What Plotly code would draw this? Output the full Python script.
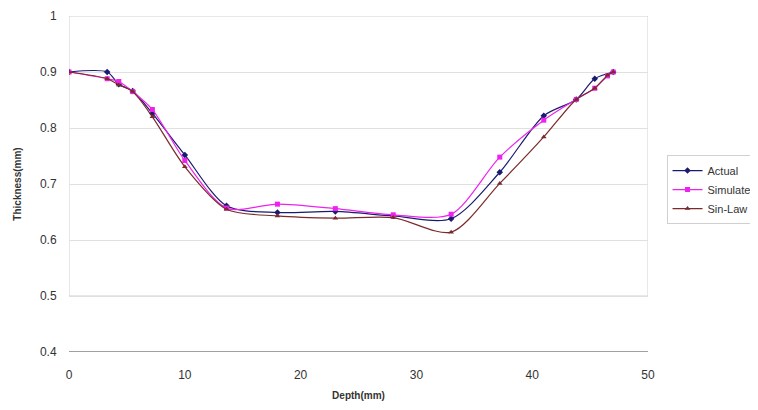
import plotly.graph_objects as go

actual_x = [0, 3.3, 4.3, 5.5, 7.2, 10, 13.6, 18, 23, 28, 33, 37.2, 41, 43.8, 45.4, 47]
actual_y = [0.9, 0.9, 0.878, 0.866, 0.826, 0.752, 0.661, 0.649, 0.651, 0.643, 0.638, 0.721, 0.822, 0.851, 0.888, 0.9]

sim_x = [0, 3.3, 4.3, 5.5, 7.2, 10, 13.6, 18, 23, 28, 33, 37.2, 41, 43.8, 45.4, 46.5, 47]
sim_y = [0.9, 0.888, 0.883, 0.865, 0.833, 0.742, 0.657, 0.664, 0.656, 0.645, 0.646, 0.748, 0.814, 0.851, 0.871, 0.893, 0.9]

sin_x = [0, 3.3, 4.3, 5.5, 7.2, 10, 13.6, 18, 23, 28, 33, 37.2, 41, 43.8, 45.4, 46.5, 47]
sin_y = [0.9, 0.888, 0.877, 0.865, 0.820, 0.731, 0.655, 0.643, 0.639, 0.640, 0.614, 0.701, 0.784, 0.851, 0.871, 0.894, 0.9]

x_ticks = [0, 10, 20, 30, 40, 50]
y_ticks = [0.4, 0.5, 0.6, 0.7, 0.8, 0.9, 1]
y_labels = ["0.4", "0.5", "0.6", "0.7", "0.8", "0.9", "1"]

fig = go.Figure()
fig.add_trace(go.Scatter(x=actual_x, y=actual_y, name="Actual", mode="lines+markers",
                         line=dict(color="#1a1a70", width=1.2, shape="spline", smoothing=0.8),
                         marker=dict(symbol="diamond", size=5, color="#1a1a70")))
fig.add_trace(go.Scatter(x=sim_x, y=sim_y, name="Simulate", mode="lines+markers",
                         line=dict(color="#ee22ee", width=1.2, shape="spline", smoothing=0.8),
                         marker=dict(symbol="square", size=5, color="#ee22ee")))
fig.add_trace(go.Scatter(x=sin_x, y=sin_y, name="Sin-Law", mode="lines+markers",
                         line=dict(color="#7a2a2a", width=1.2, shape="spline", smoothing=0.8),
                         marker=dict(symbol="triangle-up", size=5, color="#7a2a2a")))

# plot frame from 0.5 to 1
fig.add_shape(type="rect", xref="x", yref="y", x0=0, x1=50, y0=0.5, y1=1,
              line=dict(color="#d0d0d0", width=1), layer="below")
fig.add_shape(type="line", xref="x", yref="y", x0=0, x1=50, y0=0.4, y1=0.4,
              line=dict(color="#808080", width=1.5), layer="below")

fig.update_layout(
    width=758, height=410,
    margin=dict(l=61, r=118, t=8, b=66, autoexpand=False),
    paper_bgcolor="white", plot_bgcolor="white",
    font=dict(family="Liberation Sans, Arial, sans-serif", size=12, color="#333333"),
    showlegend=True,
    legend=dict(x=1.032, y=0.586, xanchor="left", yanchor="top",
                bordercolor="#d0d0d0", borderwidth=1, bgcolor="white",
                font=dict(size=11, color="#333333"), tracegroupgap=0, itemwidth=30),
    xaxis=dict(range=[0, 50], tickvals=x_ticks, ticktext=[str(v) for v in x_ticks],
               showgrid=False, zeroline=False, showline=False,
               ticks="outside", ticklen=12, tickcolor="rgba(0,0,0,0)", automargin=False,
               title=dict(text="<b>Depth(mm)</b>", font=dict(size=10, color="#333333"), standoff=10)),
    yaxis=dict(range=[0.4, 1], tickvals=y_ticks, ticktext=y_labels,
               showgrid=True, gridcolor="#e0e0e0", gridwidth=1, zeroline=False, showline=False,
               ticks="outside", ticklen=9, tickcolor="rgba(0,0,0,0)", automargin=False,
               title=dict(text="<b>Thickness(mm)</b>", font=dict(size=10, color="#333333"), standoff=16)),
)

fig.write_html("out.html")
